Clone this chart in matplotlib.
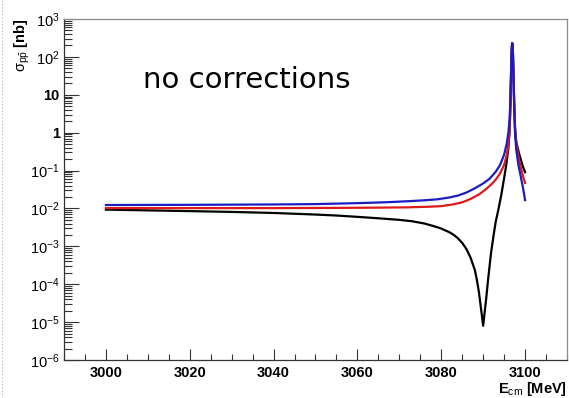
import numpy as np
import matplotlib
matplotlib.use("Agg")
import matplotlib.pyplot as plt
from matplotlib.ticker import FixedLocator, MultipleLocator, LogLocator, NullFormatter
from matplotlib.lines import Line2D

plt.rcParams['font.family'] = ['Liberation Sans', 'DejaVu Sans']
plt.rcParams['mathtext.fontset'] = 'custom'
plt.rcParams['mathtext.rm'] = 'Liberation Sans'
plt.rcParams['mathtext.it'] = 'Liberation Sans'
plt.rcParams['mathtext.bf'] = 'Liberation Sans:bold'

# --- curves (E in MeV, sigma in nb) ---
e_black = [3000, 3010, 3020, 3030, 3040, 3050, 3055, 3060, 3065, 3070, 3073, 3076,
           3078, 3080, 3082, 3083, 3084, 3085, 3086, 3087, 3088, 3088.5, 3089, 3089.5,
           3090, 3090.3, 3090.7, 3091.2, 3091.9, 3092.5, 3093, 3093.6, 3094.3, 3095,
           3095.5, 3096, 3096.3, 3096.5, 3096.65, 3096.8, 3096.9, 3097.0, 3097.1,
           3097.25, 3097.4, 3097.6, 3097.8, 3098, 3098.5, 3099, 3099.5, 3100]
s_black = [0.0093, 0.0089, 0.0085, 0.0081, 0.0076, 0.0069, 0.0065, 0.0060, 0.0055,
           0.0050, 0.0046, 0.0040, 0.00347, 0.00295, 0.00234, 0.0020, 0.00162, 0.00123,
           8.5e-4, 5e-4, 2.4e-4, 1.3e-4, 6e-5, 2.2e-5, 8e-6, 1.6e-5, 4e-5, 1.4e-4, 7e-4,
           2e-3, 4.5e-3, 9e-3, 0.022, 0.063, 0.14, 0.38, 1.1, 5, 32, 140, 225, 215, 125,
           32, 6.3, 1.4, 0.7, 0.5, 0.3, 0.19, 0.125, 0.091]

e_red = [3000, 3020, 3040, 3055, 3065, 3072, 3077, 3080, 3083, 3085, 3087, 3089,
         3090.5, 3092, 3093, 3094, 3095, 3095.6, 3096, 3096.3, 3096.5, 3096.65,
         3096.8, 3096.9, 3097.0, 3097.1, 3097.25, 3097.4, 3097.6, 3097.8, 3098,
         3098.5, 3099, 3099.5, 3100]
s_red = [0.0102, 0.0102, 0.0102, 0.01035, 0.0105, 0.0107, 0.0111, 0.0115, 0.0129,
         0.0145, 0.0178, 0.0234, 0.031, 0.0437, 0.0575, 0.083, 0.141, 0.251, 0.447,
         1.12, 4.47, 28.2, 132, 214, 204, 120, 28.2, 5.6, 1.26, 0.63, 0.43, 0.21,
         0.117, 0.072, 0.047]

e_blue = [3000, 3020, 3040, 3050, 3060, 3067, 3072, 3076, 3079, 3082, 3084, 3086,
          3088, 3090, 3091.5, 3093, 3094, 3095, 3095.6, 3096, 3096.3, 3096.5, 3096.65,
          3096.8, 3096.9, 3097.0, 3097.1, 3097.25, 3097.4, 3097.6, 3097.9, 3098.4,
          3098.9, 3099.5, 3100]
s_blue = [0.0123, 0.01245, 0.01274, 0.01303, 0.0138, 0.0146, 0.0155, 0.0164, 0.0174,
          0.0195, 0.0219, 0.0263, 0.0339, 0.0457, 0.0603, 0.0933, 0.138, 0.263, 0.5,
          0.955, 2.24, 7.9, 40, 158, 234, 224, 132, 28, 5, 1.0, 0.35, 0.141, 0.076,
          0.035, 0.0166]

ytick_vals = [1e-6, 1e-5, 1e-4, 1e-3, 1e-2, 1e-1, 1, 10, 1e2, 1e3]
ytick_labels = [r'$10^{-6}$', r'$10^{-5}$', r'$10^{-4}$', r'$10^{-3}$', r'$10^{-2}$',
                r'$10^{-1}$', '1', '10', r'$10^{2}$', r'$10^{3}$']

fig = plt.figure(figsize=(5.69, 3.98), dpi=100)
ax = fig.add_axes([64 / 569, 1 - 360 / 398, (567 - 64) / 569, (360 - 19) / 398])

ax.plot(e_black, s_black, color='black', lw=1.6)
ax.plot(e_red, s_red, color='#dd1a1a', lw=1.6)
ax.plot(e_blue, s_blue, color='#1c1cc4', lw=1.6)

ax.set_yscale('log')
ax.set_xlim(2990, 3110)
ax.set_ylim(1e-6, 1e3)

ax.yaxis.set_major_locator(FixedLocator(ytick_vals))
ax.set_yticklabels(ytick_labels)
ax.yaxis.set_minor_locator(LogLocator(base=10, subs=np.arange(2, 10), numticks=20))
ax.yaxis.set_minor_formatter(NullFormatter())
ax.xaxis.set_major_locator(MultipleLocator(20))
ax.xaxis.set_minor_locator(MultipleLocator(5))

ax.tick_params(axis='both', which='both', direction='in', top=False, right=False,
               labelsize=10.5, width=0.8, color='#333333')
ax.tick_params(axis='y', which='major', length=11)
ax.tick_params(axis='y', which='minor', length=6)
ax.tick_params(axis='x', which='major', length=8)
ax.tick_params(axis='x', which='minor', length=4.5)
ax.tick_params(axis='x', pad=4)
ax.tick_params(axis='y', pad=3)
for lab in ax.get_xticklabels() + ax.get_yticklabels():
    lab.set_fontweight('bold')

for side in ['top', 'right']:
    ax.spines[side].set_color('#8c8c8c')
    ax.spines[side].set_linewidth(0.9)
for side in ['left', 'bottom']:
    ax.spines[side].set_color('#333333')
    ax.spines[side].set_linewidth(0.9)

ax.text(0.157, 0.798, 'no corrections', transform=ax.transAxes,
        fontsize=21, family=['DejaVu Sans'], va='baseline', ha='left')

fig.text(22 / 569, 1 - 18 / 398, r'$\sigma_{p\bar{p}}$ [nb]', rotation=90,
         ha='center', va='top', fontsize=10.5, fontweight='bold')
fig.text(567 / 569, 1 - 397.5 / 398, r'E$_{\rm cm}$ [MeV]', ha='right', va='bottom',
         fontsize=10.5, fontweight='bold')

fig.add_artist(Line2D([2 / 569, 2 / 569], [0, 1], transform=fig.transFigure,
                      color='#b0b0b0', lw=0.8, ls=(0, (1, 2))))

fig.savefig('out.png', dpi=100)
